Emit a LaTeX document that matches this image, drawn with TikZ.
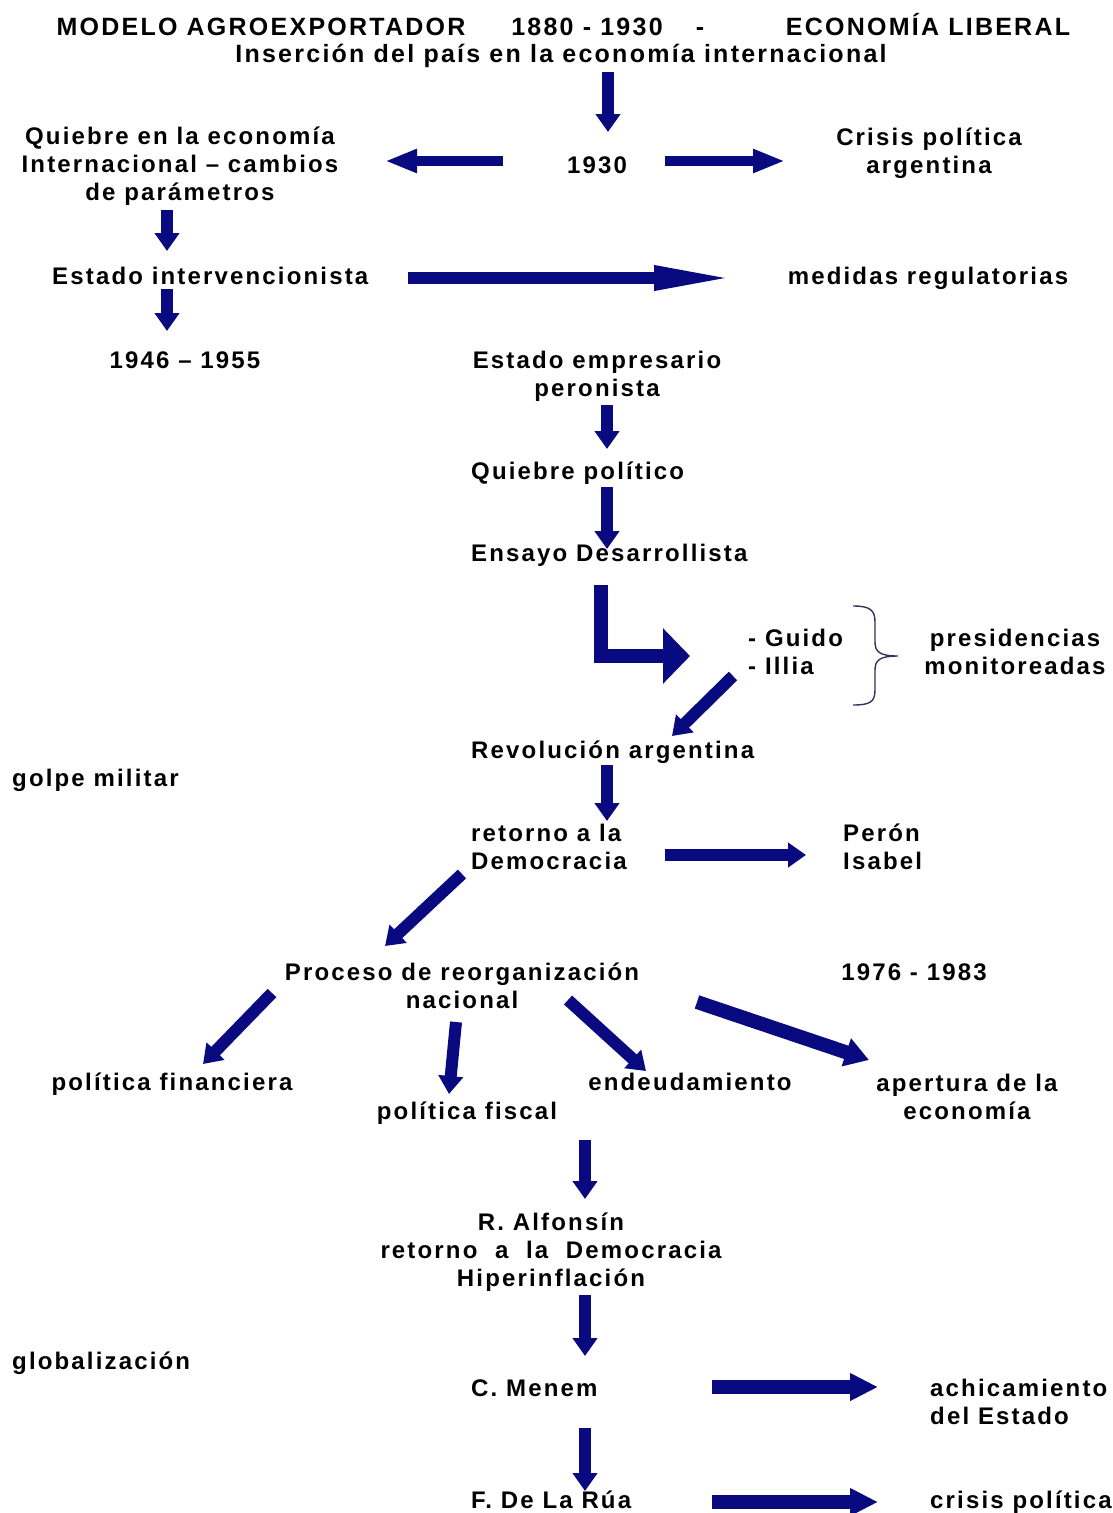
\documentclass[tikz,border=0pt]{standalone}
\usepackage{fontspec}
\setmainfont{Liberation Sans}[LetterSpace=9]
\usetikzlibrary{arrows.meta}

\definecolor{navyblue}{RGB}{10,10,128}
\definecolor{bracegray}{RGB}{50,50,90}

\begin{document}
\begin{tikzpicture}[
  x=1pt, y=-1pt,
  every node/.style={font=\fontsize{24}{28}\selectfont\bfseries, inner sep=0pt},
  lbl/.style={anchor=base},
  lblw/.style={anchor=base west, align=left},
  titulo/.style={anchor=base, font=\fontsize{25}{28}\selectfont\bfseries},
  fat/.style={draw=navyblue, line width=12pt, -{Triangle[length=18pt,width=24pt]}},
  thinfat/.style={draw=navyblue, line width=10pt, -{Triangle[length=32pt,width=22pt]}}
]
\useasboundingbox (0,0) rectangle (1112,1513);

% ---------- Title ----------
\node[titulo] (modelo) at (261,35) {MODELO AGROEXPORTADOR};
\node[titulo] (periodo) at (587,35) {1880 - 1930};
\node[titulo] (guion) at (700,35) {-};
\node[titulo] (liberal) at (928,35) {ECONOMÍA LIBERAL};
\node[titulo] (insercion) at (561,62) {Inserción del país en la economía internacional};

% ---------- 1930 ----------
\node[lbl] (crisis30) at (597,173) {1930};
\node[lbl, align=center] (quiebre) at (180,200) {Quiebre en la economía\\Internacional -- cambios\\de parámetros};
\node[lbl, align=center] (crisisarg) at (929,173) {Crisis política\\argentina};

\coordinate (a1s) at (608,72);  \coordinate (a1e) at (608,132);
\coordinate (a2s) at (503,161); \coordinate (a2e) at (385,161);
\coordinate (a3s) at (665,161); \coordinate (a3e) at (785,161);
\draw[fat] (a1s) -- (a1e);
\draw[thinfat] (a2s) -- (a2e);
\draw[thinfat] (a3s) -- (a3e);

% ---------- Estado intervencionista ----------
\node[lblw] (interv) at (52,284) {Estado intervencionista};
\node[lbl] (medidas) at (928,284) {medidas regulatorias};
\node[lbl] (peron4655) at (185,368) {1946 -- 1955};

\coordinate (b1s) at (167,210); \coordinate (b1e) at (167,251);
\coordinate (b2s) at (167,289); \coordinate (b2e) at (167,331);
\coordinate (b3s) at (408,278); \coordinate (b3e) at (738,278);
\draw[fat] (b1s) -- (b1e);
\draw[fat] (b2s) -- (b2e);
\draw[draw=navyblue, line width=12pt, -{Triangle[length=84pt,width=22pt]}] (b3s) -- (b3e);

% ---------- Estado empresario -> Ensayo ----------
\node[lbl, align=center] (empresario) at (597,396) {Estado empresario\\peronista};
\node[lblw] (quiebrepol) at (471,479) {Quiebre político};
\node[lblw] (ensayo) at (471,561) {Ensayo Desarrollista};

\coordinate (c1s) at (607,405); \coordinate (c1e) at (607,449);
\coordinate (c2s) at (607,487); \coordinate (c2e) at (607,549);
\draw[fat] (c1s) -- (c1e);
\draw[fat] (c2s) -- (c2e);

% ---------- Guido / Illia ----------
\coordinate (d1s) at (601,585); \coordinate (d1e) at (690,656);
\draw[draw=navyblue, line width=14pt, miter limit=10, -{Triangle[length=27pt,width=54pt]}] (d1s) |- (d1e);

\node[lblw] (guido) at (748,674) {- Guido\\- Illia};
\node[lbl, align=center] (presid) at (1015,674) {presidencias\\monitoreadas};
\draw[bracegray, line width=1.4pt] (853,606) .. controls (870,606) and (875,610) .. (875,622)
  -- (875,642) .. controls (875,652) and (880,656) .. (898,656)
  .. controls (880,656) and (875,660) .. (875,670)
  -- (875,690) .. controls (875,702) and (870,705) .. (853,705);

\coordinate (d2s) at (733,676); \coordinate (d2e) at (672,736);
\draw[fat] (d2s) -- (d2e);

% ---------- Revolución argentina ----------
\node[lblw] (revolucion) at (471,758) {Revolución argentina};
\node[lblw] (golpe) at (12,786) {golpe militar};
\node[lblw] (retorno) at (471,869) {retorno a la\\Democracia};
\node[lblw] (isabel) at (843,869) {Perón\\Isabel};

\coordinate (e1s) at (607,765); \coordinate (e1e) at (607,821);
\coordinate (e2s) at (665,855); \coordinate (e2e) at (806,855);
\coordinate (e3s) at (462,874); \coordinate (e3e) at (385,946);
\draw[fat] (e1s) -- (e1e);
\draw[fat] (e2s) -- (e2e);
\draw[fat] (e3s) -- (e3e);

% ---------- Proceso de reorganización nacional ----------
\node[lbl, align=center] (proceso) at (462,1008) {Proceso de reorganización\\nacional};
\node[lbl] (periodo76) at (914,980) {1976 - 1983};
\node[lbl] (financiera) at (172,1090) {política financiera};
\node[lbl] (fiscal) at (467,1119) {política fiscal};
\node[lbl] (endeuda) at (690,1090) {endeudamiento};
\node[lbl, align=center] (apertura) at (967,1119) {apertura de la\\economía};

\coordinate (f1s) at (272,993);  \coordinate (f1e) at (203,1064);
\coordinate (f2s) at (456,1022); \coordinate (f2e) at (449,1094);
\coordinate (f3s) at (568,1000); \coordinate (f3e) at (646,1071);
\coordinate (f4s) at (697,1002); \coordinate (f4e) at (869,1060);
\draw[fat] (f1s) -- (f1e);
\draw[fat] (f2s) -- (f2e);
\draw[fat] (f3s) -- (f3e);
\draw[draw=navyblue, line width=14pt, -{Triangle[length=24pt,width=28pt]}] (f4s) -- (f4e);

% ---------- Alfonsín / Menem / De La Rúa ----------
\node[lbl, align=center] (alfonsin) at (551,1286) {R. Alfonsín\\retorno\ \ a\ \ la\ \ Democracia\\Hiperinflación};
\node[lblw] (global) at (12,1369) {globalización};
\node[lblw] (menem) at (471,1396) {C. Menem};
\node[lblw] (achica) at (930,1424) {achicamiento\\del Estado};
\node[lblw] (delarua) at (471,1508) {F. De La Rúa};
\node[lblw] (crisis01) at (930,1508) {crisis política};

\coordinate (g1s) at (585,1140); \coordinate (g1e) at (585,1199);
\coordinate (g2s) at (585,1295); \coordinate (g2e) at (585,1356);
\coordinate (g3s) at (585,1428); \coordinate (g3e) at (585,1491);
\coordinate (g4s) at (712,1387); \coordinate (g4e) at (878,1387);
\coordinate (g5s) at (712,1502); \coordinate (g5e) at (878,1502);
\draw[fat] (g1s) -- (g1e);
\draw[fat] (g2s) -- (g2e);
\draw[fat] (g3s) -- (g3e);
\draw[draw=navyblue, line width=14pt, -{Triangle[length=28pt,width=26pt]}] (g4s) -- (g4e);
\draw[draw=navyblue, line width=14pt, -{Triangle[length=28pt,width=26pt]}] (g5s) -- (g5e);

\end{tikzpicture}
\end{document}
